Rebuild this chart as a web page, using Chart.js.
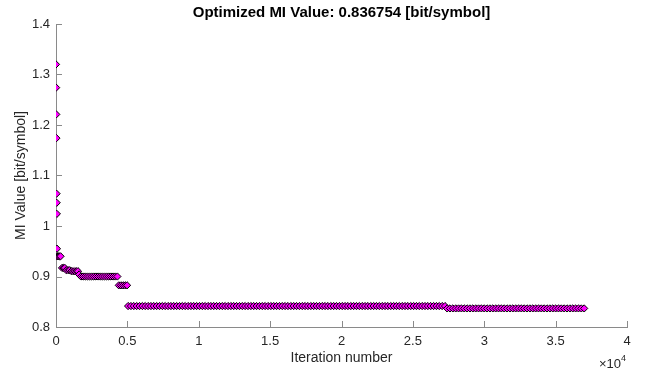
<!DOCTYPE html>
<html>
<head>
<meta charset="utf-8">
<script src="https://cdn.jsdelivr.net/npm/chart.js@4"></script>
<style>
  html, body { margin: 0; padding: 0; background: #fff; }
</style>
</head>
<body>
<canvas id="miChart" width="646" height="375"></canvas>
<script>
// ====================================
// Data
// ====================================
var titleText = 'Optimized MI Value: 0.836754 [bit/symbol]';
var xTickValues = [0, 5000, 10000, 15000, 20000, 25000, 30000, 35000, 40000];
var yTickValues = [0.8, 0.9, 1.0, 1.1, 1.2, 1.3, 1.4];

// first iterations, each with its own value
var earlyIters = [0, 10, 20, 30, 40, 50, 60, 70];
var earlyMI = [1.320, 1.274, 1.221, 1.174, 1.064, 1.046, 1.024, 0.955];

// plateaus: iterations that sit on one MI level
var iters940 = [80, 160, 240, 320];
var iters917 = [420, 520, 620];
var iters9125 = [720, 850, 960];
var iters9105 = [1080, 1200, 1320, 1440, 1540];
var iters904 = [1620];
var iters900 = [1750, 1900, 2050, 2200, 2350, 2500, 2650, 2800, 2950, 3100,
                3250, 3400, 3550, 3700, 3850, 4000, 4150, 4300];
var iters8825 = [4400, 4550, 4700, 4850, 4980];
var iters8415 = [5050, 5250, 5450, 5650, 5850, 6050, 6250, 6450, 6650, 6850,
                 7050, 7250, 7450, 7650, 7850, 8050, 8250, 8450, 8650, 8850,
                 9050, 9250, 9450, 9650, 9850, 10050, 10250, 10450, 10650, 10850,
                 11050, 11250, 11450, 11650, 11850, 12050, 12250, 12450, 12650, 12850,
                 13050, 13250, 13450, 13650, 13850, 14050, 14250, 14450, 14650, 14850,
                 15050, 15250, 15450, 15650, 15850, 16050, 16250, 16450, 16650, 16850,
                 17050, 17250, 17450, 17650, 17850, 18050, 18250, 18450, 18650, 18850,
                 19050, 19250, 19450, 19650, 19850, 20050, 20250, 20450, 20650, 20850,
                 21050, 21250, 21450, 21650, 21850, 22050, 22250, 22450, 22650, 22850,
                 23050, 23250, 23450, 23650, 23850, 24050, 24250, 24450, 24650, 24850,
                 25050, 25250, 25450, 25650, 25850, 26050, 26250, 26450, 26650, 26850,
                 27050, 27250];
var iters8368 = [27400, 27600, 27800, 28000, 28200, 28400, 28600, 28800, 29000, 29200,
                 29400, 29600, 29800, 30000, 30200, 30400, 30600, 30800, 31000, 31200,
                 31400, 31600, 31800, 32000, 32200, 32400, 32600, 32800, 33000, 33200,
                 33400, 33600, 33800, 34000, 34200, 34400, 34600, 34800, 35000, 35200,
                 35400, 35600, 35800, 36000, 36200, 36400, 36600, 36800, 37000];

var plateauLevels = [0.940, 0.917, 0.9125, 0.9105, 0.904, 0.900, 0.8825, 0.8415, 0.8368];
var plateauIters = [iters940, iters917, iters9125, iters9105, iters904, iters900, iters8825, iters8415, iters8368];

// ====================================
// Build points
// ====================================
var points = [];
earlyIters.forEach(function(it, i) {
    points.push({ x: it, y: earlyMI[i] });
});
plateauIters.forEach(function(list, k) {
    list.forEach(function(it) {
        points.push({ x: it, y: plateauLevels[k] });
    });
});

var axisColor = '#8a8a8a';
var textColor = '#262626';
var fontFamily = '"Liberation Sans", Arial, Helvetica, sans-serif';

// ====================================
// Extras: inward ticks, title, x10^4
// ====================================
var extrasPlugin = {
    id: 'extras',
    afterDraw: function(chart) {
        var ctx = chart.ctx;
        var area = chart.chartArea;
        var xs = chart.scales.x;
        var ys = chart.scales.y;
        ctx.save();
        ctx.strokeStyle = axisColor;
        ctx.lineWidth = 1;
        ctx.beginPath();
        xTickValues.forEach(function(v) {
            var px = Math.round(xs.getPixelForValue(v)) + 0.5;
            ctx.moveTo(px, area.bottom);
            ctx.lineTo(px, area.bottom - 6);
        });
        yTickValues.forEach(function(v) {
            var py = Math.round(ys.getPixelForValue(v)) + 0.5;
            ctx.moveTo(area.left, py);
            ctx.lineTo(area.left + 6, py);
        });
        ctx.stroke();

        ctx.fillStyle = '#000';
        ctx.textAlign = 'center';
        ctx.textBaseline = 'middle';
        ctx.font = 'bold 15px ' + fontFamily;
        ctx.fillText(titleText, (area.left + area.right) / 2, 13);

        ctx.fillStyle = textColor;
        ctx.textAlign = 'right';
        ctx.textBaseline = 'alphabetic';
        ctx.font = '9px ' + fontFamily;
        ctx.fillText('4', area.right - 1, 361);
        var w4 = ctx.measureText('4').width;
        ctx.font = '13px ' + fontFamily;
        ctx.fillText('\u00d710', area.right - 1 - w4, 368);
        ctx.restore();
    }
};

// ====================================
// Chart
// ====================================
var ctx = document.getElementById('miChart').getContext('2d');
new Chart(ctx, {
    type: 'scatter',
    data: {
        datasets: [{
            data: points,
            pointStyle: 'rectRot',
            pointRadius: 3.6,
            pointBorderWidth: 1,
            backgroundColor: '#ff00ff',
            borderColor: '#000000'
        }]
    },
    options: {
        responsive: false,
        animation: false,
        layout: {
            padding: { top: 24, right: 19, left: 0, bottom: 0 }
        },
        plugins: {
            legend: { display: false },
            tooltip: { enabled: false },
            title: { display: false }
        },
        scales: {
            x: {
                type: 'linear',
                min: 0,
                max: 40000,
                afterBuildTicks: function(scale) {
                    scale.ticks = xTickValues.map(function(v) { return { value: v }; });
                },
                afterFit: function(scale) { scale.height = 48; },
                grid: { display: false, drawTicks: false },
                border: { display: true, color: axisColor, width: 1 },
                ticks: {
                    color: textColor,
                    padding: 7,
                    maxRotation: 0,
                    font: { size: 13, family: fontFamily },
                    callback: function(v) { return String(v / 10000); }
                },
                title: {
                    display: true,
                    text: 'Iteration number',
                    color: textColor,
                    font: { size: 14, family: fontFamily },
                    padding: { top: 0, bottom: 8 }
                }
            },
            y: {
                type: 'linear',
                min: 0.8,
                max: 1.4,
                afterBuildTicks: function(scale) {
                    scale.ticks = yTickValues.map(function(v) { return { value: v }; });
                },
                afterFit: function(scale) { scale.width = 56; },
                grid: { display: false, drawTicks: false },
                border: { display: true, color: axisColor, width: 1 },
                ticks: {
                    color: textColor,
                    padding: 6,
                    font: { size: 13, family: fontFamily },
                    callback: function(v) { return String(Number(v.toFixed(1))); }
                },
                title: {
                    display: true,
                    text: 'MI Value [bit/symbol]',
                    color: textColor,
                    font: { size: 14, family: fontFamily },
                    padding: { top: 13, bottom: 0 }
                }
            }
        }
    },
    plugins: [extrasPlugin]
});
</script>
</body>
</html>
